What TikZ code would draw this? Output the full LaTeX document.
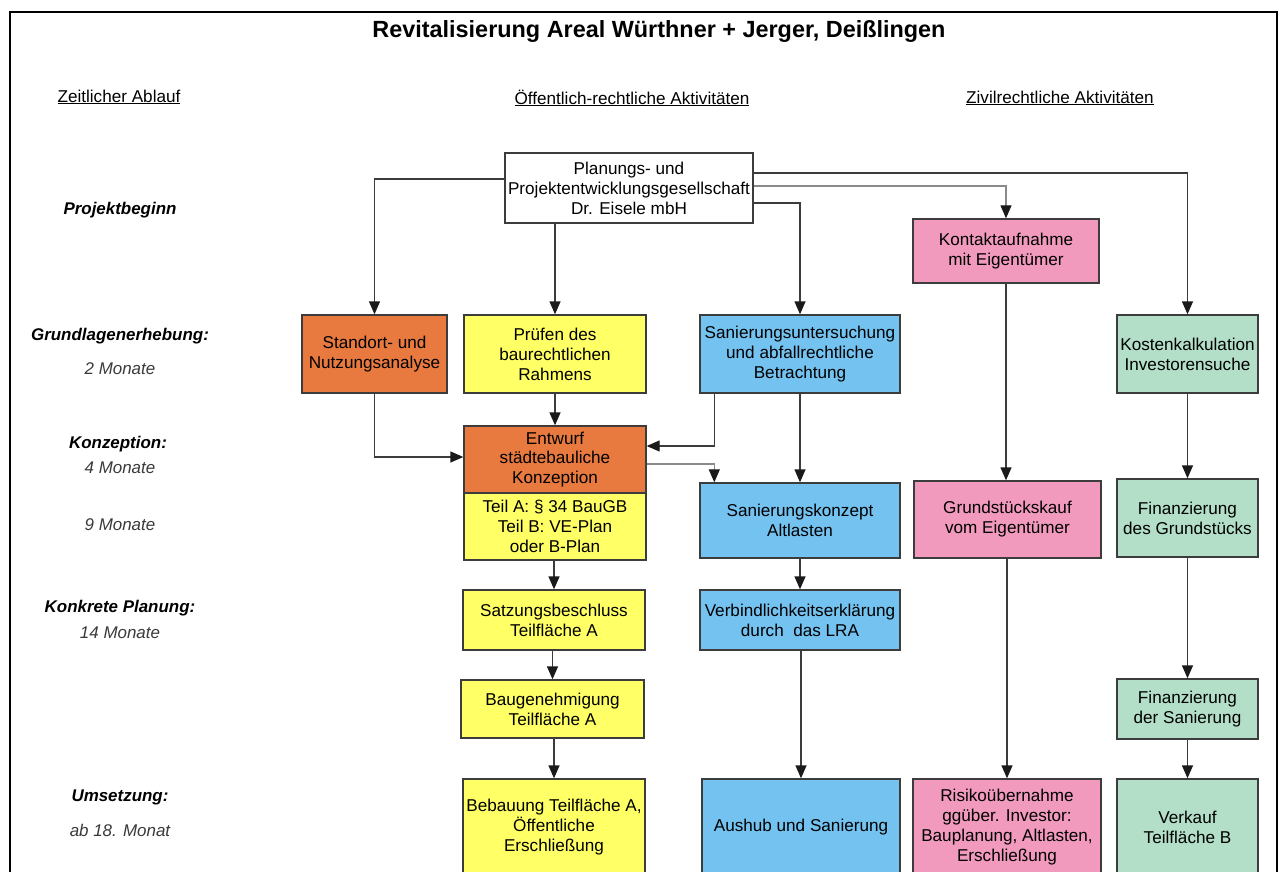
\documentclass[tikz,border=0pt]{standalone}
\usepackage{fontspec}
\setmainfont{Liberation Sans}
\usetikzlibrary{arrows.meta,calc}
\definecolor{orng}{HTML}{E8793F}
\definecolor{yell}{HTML}{FFFF66}
\definecolor{blu}{HTML}{73C2F0}
\definecolor{pnk}{HTML}{F19ABD}
\definecolor{grn}{HTML}{B3DFC8}
\definecolor{linec}{HTML}{3C3C3C}
\definecolor{lightc}{HTML}{8A8A8A}
\definecolor{monc}{HTML}{3A3A3A}
\definecolor{tipc}{HTML}{1A1A1A}
\begin{document}
\begin{tikzpicture}[x=1bp,y=-1bp,
  box/.style={draw=linec, line width=1.4bp, inner sep=0pt, align=center,
    font=\fontsize{17.2}{20}\selectfont},
  conn/.style={draw=linec, line width=1.4bp, -{Triangle[length=13bp,width=11bp,color=tipc]}},
  thinconn/.style={draw=lightc, line width=1.2bp, -{Triangle[length=13bp,width=11bp,color=tipc]}},
  hdr/.style={font=\fontsize{17.2}{20}\selectfont, anchor=center},
  phase/.style={font=\fontsize{17}{20}\selectfont\bfseries\itshape, anchor=center},
  dur/.style={font=\fontsize{17}{20}\selectfont\itshape, text=monc, anchor=center}]
\useasboundingbox (0,0) rectangle (1279,872);
\fill[white] (0,0) rectangle (1279,872);
% frame
\draw[black, line width=2bp] (10,880) -- (10,12) -- (1277,12) -- (1277,880);
% title
\node[font=\fontsize{23.5}{27}\selectfont\bfseries] (title) at (659,31) {Revitalisierung Areal Würthner + Jerger, Deißlingen};
% headers
\node[hdr] (h1) at (119,97) {\underline{Zeitlicher Ablauf}};
\node[hdr] (h2) at (632,98) {\underline{Öffentlich-rechtliche Aktivitäten}};
\node[hdr] (h3) at (1060,98) {\underline{Zivilrechtliche Aktivitäten}};
% left column
\node[phase] (l1) at (120,210) {Projektbeginn};
\node[phase] (l2) at (120,336) {Grundlagenerhebung:};
\node[dur] (l3) at (120,369) {2 Monate};
\node[phase] (l4) at (118,444) {Konzeption:};
\node[dur] (l5) at (120,468) {4 Monate};
\node[dur] (l6) at (120,525) {9 Monate};
\node[phase] (l7) at (120,608) {Konkrete Planung:};
\node[dur] (l8) at (120,633) {14 Monate};
\node[phase] (l9) at (120,797) {Umsetzung:};
\node[dur] (l10) at (120,830) {ab 18. Monat};
% boxes
\node[box, fill=white, minimum width=248bp, minimum height=70bp] (plan) at (629,188) {Planungs- und\\Projektentwicklungsgesellschaft\\Dr. Eisele mbH};
\node[box, fill=orng, minimum width=145bp, minimum height=78bp] (standort) at (374.5,354) {Standort- und\\Nutzungsanalyse};
\node[box, fill=yell, minimum width=182bp, minimum height=78bp] (pruefen) at (555,354) {Prüfen des\\baurechtlichen\\Rahmens};
\node[box, fill=blu, minimum width=200bp, minimum height=78bp] (sanu) at (800,354) {Sanierungsuntersuchung\\und abfallrechtliche\\Betrachtung};
\node[box, fill=pnk, minimum width=186bp, minimum height=64bp] (kontakt) at (1006,251) {Kontaktaufnahme\\mit Eigentümer};
\node[box, fill=grn, minimum width=141bp, minimum height=78bp] (kosten) at (1187.5,354) {Kostenkalkulation\\Investorensuche};
\node[box, fill=orng, minimum width=182bp, minimum height=67bp] (entwurf) at (555,459.5) {Entwurf\\städtebauliche\\Konzeption};
\node[box, fill=yell, minimum width=182bp, minimum height=67bp] (teil) at (555,526.5) {Teil A: § 34 BauGB\\Teil B: VE-Plan\\oder B-Plan};
\node[box, fill=blu, minimum width=200bp, minimum height=75bp] (sank) at (800,520.5) {Sanierungskonzept\\Altlasten};
\node[box, fill=pnk, minimum width=187bp, minimum height=77bp] (grund) at (1007.5,519.5) {Grundstückskauf\\vom Eigentümer};
\node[box, fill=grn, minimum width=141bp, minimum height=78bp] (find) at (1187.5,518) {Finanzierung\\des Grundstücks};
\node[box, fill=yell, minimum width=182bp, minimum height=60bp] (satz) at (554,620) {Satzungsbeschluss\\Teilfläche A};
\node[box, fill=blu, minimum width=200bp, minimum height=60bp] (verb) at (800,620) {Verbindlichkeitserklärung\\durch\ \ das LRA};
\node[box, fill=yell, minimum width=183bp, minimum height=58bp] (baug) at (552.5,709) {Baugenehmigung\\Teilfläche A};
\node[box, fill=grn, minimum width=141bp, minimum height=60bp] (fins) at (1187.5,709) {Finanzierung\\der Sanierung};
\node[box, fill=yell, minimum width=182bp, minimum height=96bp] (bebau) at (554,827) {Bebauung Teilfläche A,\\Öffentliche\\Erschließung};
\node[box, fill=blu, minimum width=198bp, minimum height=96bp] (aushub) at (801,827) {Aushub und Sanierung};
\node[box, fill=pnk, minimum width=188bp, minimum height=96bp] (risiko) at (1007,827) {Risikoübernahme\\ggüber. Investor:\\Bauplanung, Altlasten,\\Erschließung};
\node[box, fill=grn, minimum width=141bp, minimum height=96bp] (verkauf) at (1187.5,827) {Verkauf\\Teilfläche B};
% connectors
\draw[conn] ($(plan.west)+(0,-9)$) -| (standort.north);
\draw[conn] (plan.south -| pruefen.north) -- (pruefen.north);
\draw[conn] ($(plan.east)+(0,15)$) -| (sanu.north);
\draw[thinconn] ($(plan.east)+(0,-2)$) -| (kontakt.north);
\draw[conn] ($(plan.east)+(0,-15)$) -| (kosten.north);
\draw[conn] (standort.south) |- ($(entwurf.west)+(0,-2.5)$);
\draw[conn] (pruefen.south) -- (entwurf.north);
\draw[conn] ($(sanu.south west)+(15,0)$) |- ($(entwurf.east)+(0,-13.5)$);
\draw[thinconn] ($(entwurf.east)+(0,4.5)$) -| ($(sank.north west)+(15,0)$);
\draw[conn] (sanu.south) -- (sank.north);
\draw[conn] (kontakt.south) -- (kontakt.south |- grund.north);
\draw[conn] (kosten.south) -- (find.north);
\draw[conn] (teil.south -| satz.north) -- (satz.north);
\draw[conn] (sank.south) -- (verb.north);
\draw[conn] (satz.south -| baug.north) -- (baug.north);
\draw[conn] (baug.south -| bebau.north) -- (bebau.north);
\draw[conn] (verb.south -| aushub.north) -- (aushub.north);
\draw[conn] (grund.south -| risiko.north) -- (risiko.north);
\draw[conn] (find.south) -- (fins.north);
\draw[conn] (fins.south) -- (verkauf.north);
\end{tikzpicture}
\end{document}
